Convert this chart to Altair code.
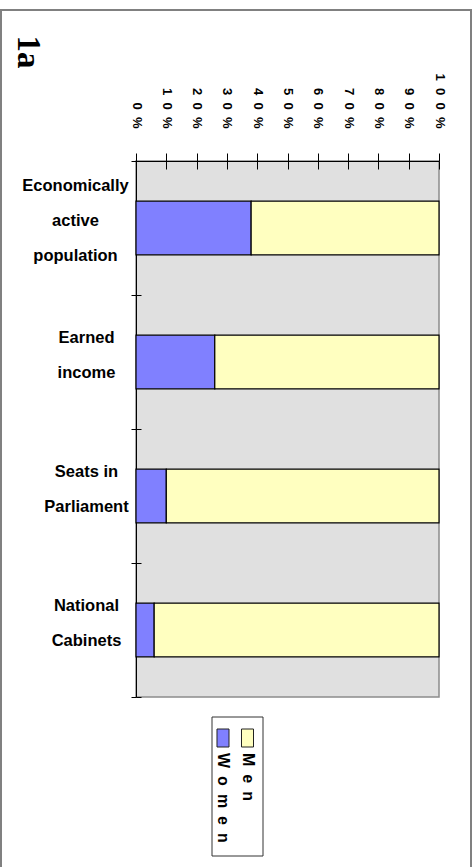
import altair as alt
import pandas as pd

# ---------------- data ----------------
categories = [
    "Economically active population",
    "Earned income",
    "Seats in Parliament",
    "National Cabinets",
]
category_lines = [
    ["Economically", "active", "population"],
    ["Earned", "income"],
    ["Seats in", "Parliament"],
    ["National", "Cabinets"],
]
series = ["Women", "Men"]
women = [38, 26, 10, 6]
men = [62, 74, 90, 94]
tick_values = [0, 10, 20, 30, 40, 50, 60, 70, 80, 90, 100]
series_colors = ["#8080FF", "#FFFFC0"]
panel_title = "1a"

rows = []
for i, c in enumerate(categories):
    rows.append({"category": c, "series": "Women", "value": women[i], "order": 0})
    rows.append({"category": c, "series": "Men", "value": men[i], "order": 1})
df = pd.DataFrame(rows)

legend_df = pd.DataFrame({"series": series})
title_df = pd.DataFrame({"t": [panel_title]})
one_df = pd.DataFrame({"k": [0]})

# y-axis label expression (multi-line labels)
expr = "datum.value"
for c, lines in reversed(list(zip(categories, category_lines))):
    arr = "[" + ",".join("'" + l + "'" for l in lines) + "]"
    expr = f"datum.value == '{c}' ? {arr} : ({expr})"
y_label_expr = expr
first_test = f"datum.value == '{categories[0]}'"

FIG = "\u2007"
EN = "\u2002"
x_label_expr = f"join(split(datum.value + '%', ''), '{FIG}')"

SANS = "Liberation Sans"

x_scale = alt.Scale(domain=[0, 100], nice=False, zero=True)
y_scale = alt.Scale(domain=categories, paddingInner=0, paddingOuter=0)
color_scale = alt.Scale(domain=series, range=series_colors)

# ---------------- main bars ----------------
bars = alt.Chart(df).mark_bar(
    stroke="black", strokeWidth=1.2, height=alt.RelativeBandSize(0.4)
).encode(
    x=alt.X(
        "value:Q",
        stack="zero",
        scale=x_scale,
        axis=alt.Axis(
            orient="top",
            values=tick_values,
            labelExpr=x_label_expr,
            labelAngle=90,
            labelAlign="right",
            labelBaseline="middle",
            labelFont=SANS,
            labelFontSize=13,
            labelFontWeight="bold",
            labelColor="black",
            labelOverlap=False,
            labelFlush=False,
            tickSize=8,
            tickColor="black",
            domainColor="black",
            labelPadding=25,
            grid=False,
            title=None,
        ),
    ),
    y=alt.Y(
        "category:N",
        sort=categories,
        scale=y_scale,
        axis=alt.Axis(
            orient="left",
            tickBand="extent",
            tickSize=5,
            tickColor="black",
            domainColor="black",
            labelExpr=y_label_expr,
            labelFont=SANS,
            labelFontSize=16.5,
            labelFontWeight="bold",
            labelColor="black",
            labelLineHeight=35,
            labelOffset={"condition": {"test": first_test, "value": -43}, "value": -25},
            labelPadding={"condition": {"test": first_test, "value": 56}, "value": 45},
            labelAlign="center",
            labelBaseline="middle",
            labelLimit=300,
            title=None,
        ),
    ),
    color=alt.Color("series:N", scale=color_scale, legend=None),
    order=alt.Order("order:Q", sort="ascending"),
)

# inner halves of the crossing ticks (second, label-less axes)
inner = alt.Chart(df).mark_bar(opacity=0, height=alt.RelativeBandSize(0.4)).encode(
    x=alt.X(
        "value:Q",
        stack="zero",
        scale=x_scale,
        axis=alt.Axis(
            orient="top", offset=-8, values=tick_values, tickSize=8,
            labels=False, domain=False, tickColor="black", grid=False, title=None,
        ),
    ),
    y=alt.Y(
        "category:N",
        sort=categories,
        scale=y_scale,
        axis=alt.Axis(
            orient="left", offset=-5, tickSize=5, tickBand="extent",
            labels=False, domain=False, tickColor="black", title=None,
        ),
    ),
    order=alt.Order("order:Q", sort="ascending"),
)

main = alt.layer(bars, inner).resolve_axis(x="independent", y="independent")

# ---------------- legend (rotated) ----------------
leg_x = alt.X(
    "series:N",
    sort=series,
    scale=alt.Scale(type="point", domain=series, range=[87, 111.5], padding=0),
    axis=None,
)
box = alt.Chart(one_df).mark_rect(fill="white", stroke="#333333", strokeWidth=1).encode(
    x=alt.value(76), x2=alt.value(127), y=alt.value(556), y2=alt.value(695)
)
swatches = alt.Chart(legend_df).mark_point(
    shape="M-0.667,-1L0.667,-1L0.667,1L-0.667,1Z",
    filled=True,
    size=324,
    stroke="#222222",
    strokeWidth=1,
    opacity=1,
).encode(
    x=leg_x,
    y=alt.value(577),
    color=alt.Color("series:N", scale=color_scale, legend=None),
)
leg_text = alt.Chart(legend_df).transform_calculate(
    lab=f"join(split(datum.series, ''), '{EN}')"
).mark_text(
    angle=90, align="left", baseline="middle", font=SANS, fontSize=16,
    fontWeight="bold", color="black",
).encode(x=leg_x, y=alt.value(592), text="lab:N")

legend = alt.layer(box, swatches, leg_text)

# ---------------- frame + panel title ----------------
frame = alt.Chart(one_df).mark_rect(
    fillOpacity=0, stroke="#808080", strokeWidth=2
).encode(x=alt.value(-135), x2=alt.value(335), y=alt.value(-151), y2=alt.value(730))

title_mark = alt.Chart(title_df).mark_text(
    angle=90, align="center", baseline="middle", font="Liberation Serif",
    fontSize=33, fontWeight="bold", color="black",
).encode(x=alt.value(-108), y=alt.value(-109), text="t:N")

chart = (
    alt.layer(frame, title_mark, main, legend)
    .resolve_scale(x="independent")
    .properties(
        width=303,
        height=536,
        autosize=alt.AutoSizeParams(type="none"),
        padding={"left": 136, "top": 161, "right": 34, "bottom": 170},
        background="white",
    )
    .configure_view(fill="#E0E0E0", stroke="#8c8c8c", strokeWidth=1.5)
)

chart.save("out.html", embed_options={"renderer": "svg", "actions": False})
